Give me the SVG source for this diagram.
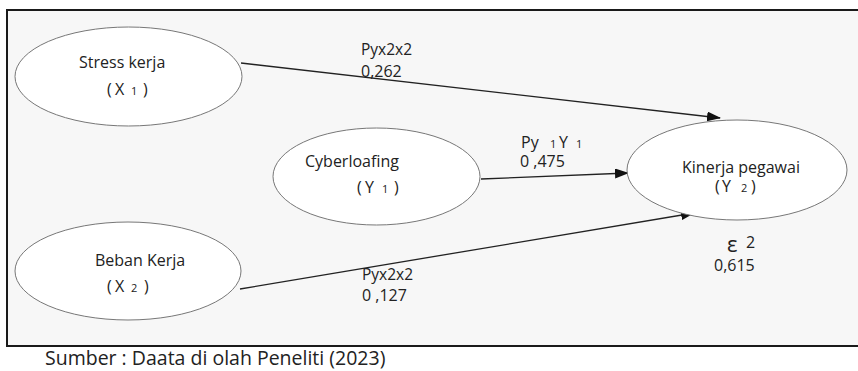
<svg xmlns="http://www.w3.org/2000/svg" width="858" height="371" viewBox="0 0 858 371">
<defs>
<marker id="ah" markerWidth="14" markerHeight="10" refX="13" refY="5" orient="auto" markerUnits="userSpaceOnUse">
<path d="M0,0 L14,5 L0,10 z" fill="#111"/>
</marker>
<style>
text{font-family:"Open Sans","Liberation Sans",sans-serif;fill:#222;font-size:16px}
.s{font-size:11px}
.l{font-size:15.5px}
.n{fill:#fff;stroke:#777;stroke-width:1}
.c{stroke:#222;stroke-width:1.3;fill:none;marker-end:url(#ah)}
</style>
</defs>
<rect width="858" height="371" fill="#fff"/>
<rect x="7" y="10" width="860" height="336" fill="#f7f7f7" stroke="#1a1a1a" stroke-width="2"/>
<g id="connectors">
<line class="c" x1="241" y1="63" x2="720" y2="118"/>
<line class="c" x1="481" y1="179" x2="628" y2="173"/>
<line class="c" x1="240" y1="289" x2="694" y2="213"/>
</g>
<g id="n-x1">
<ellipse class="n" cx="128.5" cy="76.5" rx="113.5" ry="49.5"/>
<text x="79" y="68">Stress kerja</text>
<text y="95"><tspan x="107">(</tspan><tspan x="115">X</tspan><tspan x="131" class="s">1</tspan><tspan x="143">)</tspan></text>
</g>
<g id="n-y1">
<ellipse class="n" cx="376.5" cy="176.5" rx="103.5" ry="48.5"/>
<text x="305" y="167">Cyberloafing</text>
<text y="193"><tspan x="357">(</tspan><tspan x="365">Y</tspan><tspan x="382" class="s">1</tspan><tspan x="394">)</tspan></text>
</g>
<g id="n-x2">
<ellipse class="n" cx="128" cy="271" rx="113" ry="49"/>
<text x="95" y="266">Beban Kerja</text>
<text y="292"><tspan x="107">(</tspan><tspan x="115">X</tspan><tspan x="131" class="s">2</tspan><tspan x="144">)</tspan></text>
</g>
<g id="n-y2">
<ellipse class="n" cx="737" cy="170" rx="110" ry="50"/>
<text x="682" y="173">Kinerja pegawai</text>
<text y="192"><tspan x="715">(</tspan><tspan x="722">Y</tspan><tspan x="741" class="s">2</tspan><tspan x="751">)</tspan></text>
</g>
<g id="labels">
<text class="l" x="361" y="55">Pyx2x2</text>
<text x="361" y="77">0,262</text>
<text y="148"><tspan x="521">Py</tspan><tspan x="550" class="s">1</tspan><tspan x="559">Y</tspan><tspan x="576" class="s">1</tspan></text>
<text x="520" y="167">0 ,475</text>
<text class="l" x="362" y="280">Pyx2x2</text>
<text x="362" y="301">0 ,127</text>
<text x="727" y="252" style="font-size:22px">ε</text>
<text x="746" y="248">2</text>
<text x="714" y="271">0,615</text>
<text x="45" y="365" style="font-size:19.5px">Sumber : Daata di olah Peneliti (2023)</text>
</g>
</svg>
